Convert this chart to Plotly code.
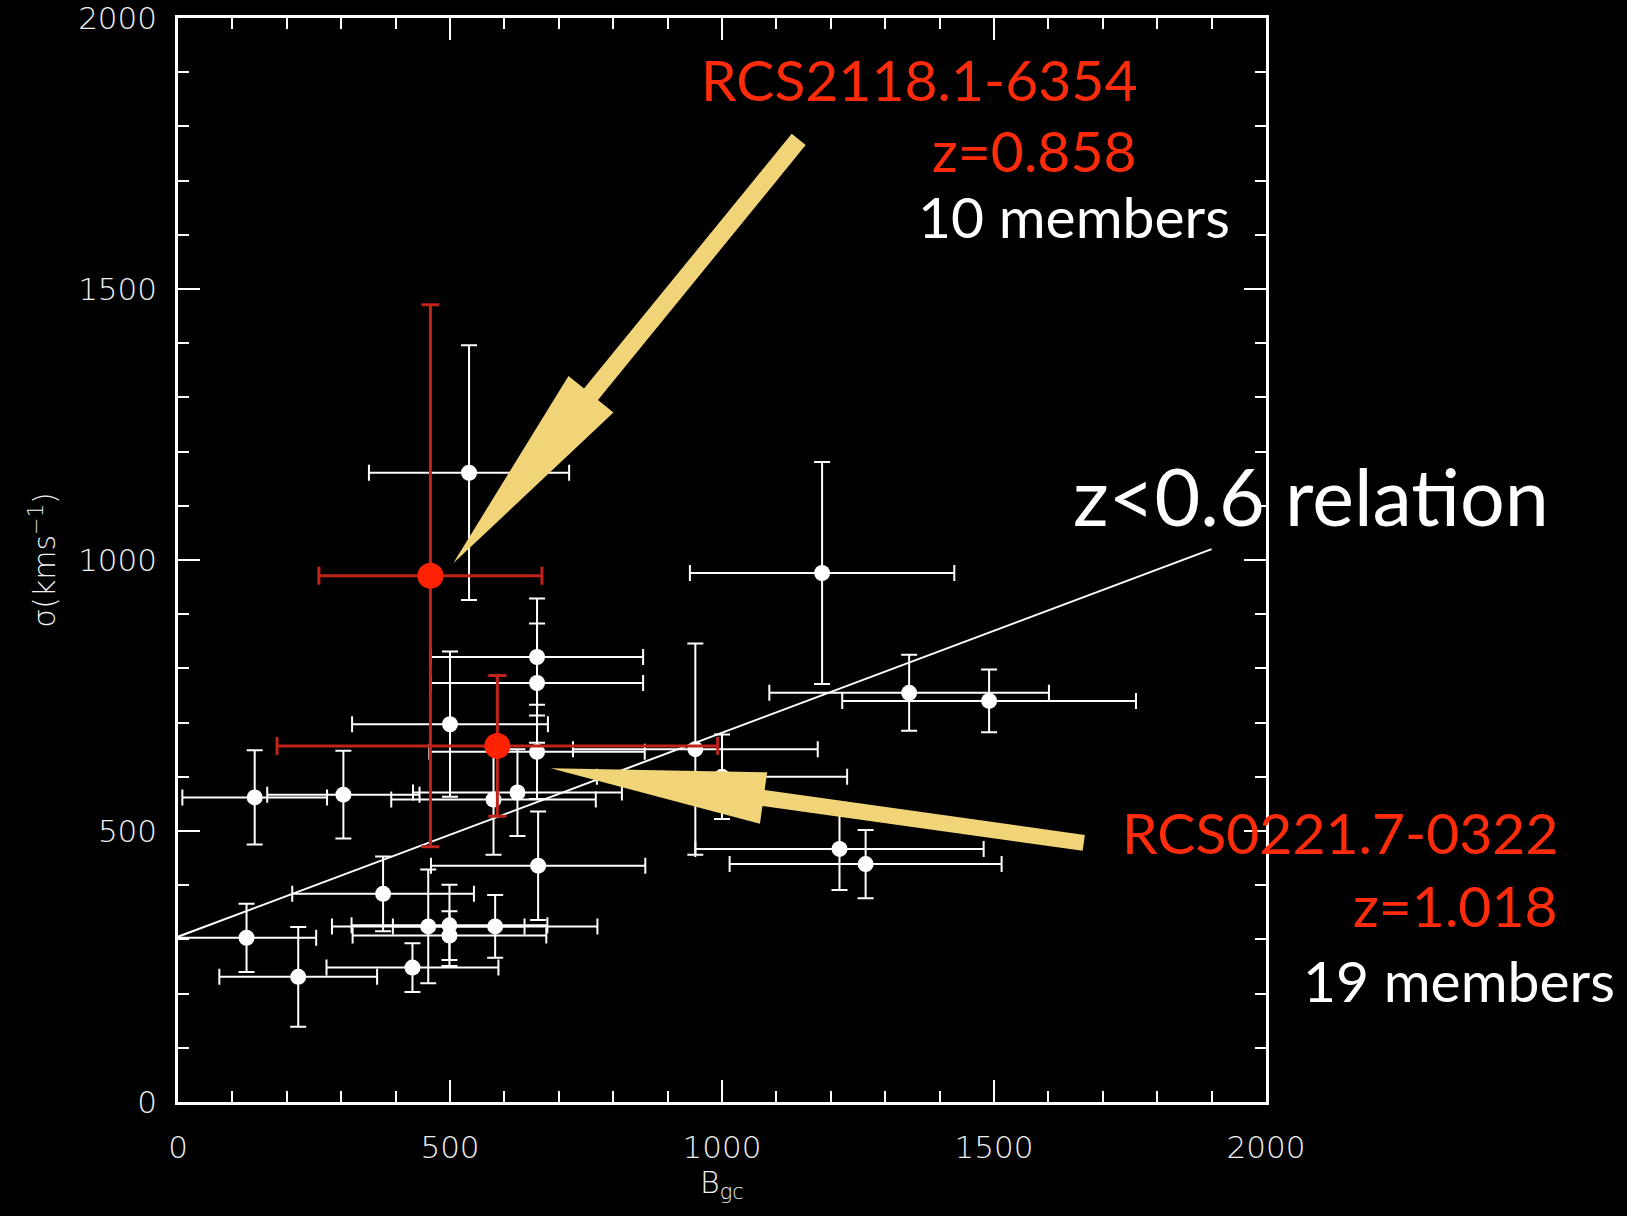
import math
import plotly.graph_objects as go

# ---- cluster sample (z < 0.6 and comparison clusters) ----
bgc = [535, 660, 660, 660, 951, 500, 141, 304, 580, 624, 662, 377, 126,
       221, 431, 460, 499, 499, 583, 1184, 1344, 1491, 1216, 1264, 1000]
sigma = [1161, 821, 773, 646, 651, 697, 562, 567, 558, 571, 436, 384, 303,
         231, 248, 324, 326, 307, 324, 976, 755, 740, 467, 439, 600]
bgc_err = [184, 195, 195, 198, 225, 180, 133, 140, 188, 192, 197, 167, 128,
           145, 158, 177, 180, 178, 188, 243, 257, 270, 265, 250, 230]
sigma_err = [235, 108, 110, 87, 195, 134, 87, 81, 102, 80, 100, 69, 63,
             92, 45, 105, 75, 45, 58, 205, 70, 58, 76, 63, 78]

# ---- high-redshift RCS clusters ----
hiz_names = ["RCS2118.1-6354", "RCS0221.7-0322"]
hiz_z = ["0.858", "1.018"]
hiz_members = [10, 19]
hiz_bgc = [464, 587]
hiz_sigma = [971, 657]
hiz_bgc_err = [205, 405]
hiz_sigma_err = [500, 130]

# ---- low-redshift relation ----
fit_bgc = [0, 1900]
fit_sigma = [305, 1020]
fit_label = "z<0.6 relation"

tick_vals = [0, 500, 1000, 1500, 2000]

# ---- canvas geometry ----
W, H = 1627, 1216
ML, MR, MT, MB = 178, 361, 18, 114
PW, PH = W - ML - MR, H - MT - MB
AX_MAX = 2000

RED_TXT = "#FF2B0A"
RED_PT = "#FF2200"
RED_BAR = "#C0231A"
ARROW = "#F1D477"
AXIS_TXT = "#f0f0f0"


def d2px(x, y):
    return ML + x / AX_MAX * PW, MT + (1 - y / AX_MAX) * PH


def px2d(px, py):
    return (px - ML) / PW * AX_MAX, (1 - (py - MT) / PH) * AX_MAX


def px2paper(px, py):
    return (px - ML) / PW, 1 - (py - MT) / PH


def arrow_path(tip, tail, shaft=17, head_w=56, head_len=215):
    tx, ty = d2px(*tip)
    sx, sy = d2px(*tail)
    dx, dy = tx - sx, ty - sy
    length = math.hypot(dx, dy)
    ux, uy = dx / length, dy / length
    nx, ny = -uy, ux
    bx, by = tx - ux * head_len, ty - uy * head_len
    pts = [
        (sx + nx * shaft / 2, sy + ny * shaft / 2),
        (bx + nx * shaft / 2, by + ny * shaft / 2),
        (bx + nx * head_w / 2, by + ny * head_w / 2),
        (tx, ty),
        (bx - nx * head_w / 2, by - ny * head_w / 2),
        (bx - nx * shaft / 2, by - ny * shaft / 2),
        (sx - nx * shaft / 2, sy - ny * shaft / 2),
    ]
    d = [px2d(*p) for p in pts]
    return "M " + " L ".join(f"{x:.2f},{y:.2f}" for x, y in d) + " Z"


fig = go.Figure()

fig.add_trace(go.Scatter(
    x=bgc, y=sigma, mode="markers",
    marker=dict(color="white", size=16, line=dict(width=0)),
    error_x=dict(type="data", array=bgc_err, color="white", thickness=2, width=8),
    error_y=dict(type="data", array=sigma_err, color="white", thickness=2, width=8),
    showlegend=False, hoverinfo="skip",
))

fig.add_trace(go.Scatter(
    x=fit_bgc, y=fit_sigma, mode="lines",
    line=dict(color="white", width=2),
    showlegend=False, hoverinfo="skip",
))

fig.add_trace(go.Scatter(
    x=hiz_bgc, y=hiz_sigma, mode="markers",
    marker=dict(color=RED_PT, size=26, line=dict(width=0)),
    error_x=dict(type="data", array=hiz_bgc_err, color=RED_BAR, thickness=3, width=9),
    error_y=dict(type="data", array=hiz_sigma_err, color=RED_BAR, thickness=3, width=9),
    showlegend=False, hoverinfo="skip",
))

# pointer arrows to the two RCS clusters
arrow_tips = [(506, 994), (685, 616)]
arrow_tails = [(1141, 1776), (1665, 478)]
arrow_heads = [(58, 218), (52, 215)]
arrow_shafts = [18, 16]
shapes = []
for tip, tail, (hw, hl), sw in zip(arrow_tips, arrow_tails, arrow_heads, arrow_shafts):
    shapes.append(dict(
        type="path", xref="x", yref="y", layer="above",
        path=arrow_path(tip, tail, shaft=sw, head_w=hw, head_len=hl),
        fillcolor=ARROW, line=dict(width=0),
    ))

TXT_FONT = "Lato"
annotations = []


def add_text(text, px, baseline, size, color, anchor="right"):
    cx, cy = px2paper(px, baseline - 0.36 * size)
    annotations.append(dict(
        text=text, x=cx, y=cy, xref="paper", yref="paper",
        xanchor=anchor, yanchor="middle", showarrow=False,
        font=dict(family=TXT_FONT, size=size, color=color),
    ))


label_right = [1139, 1560]
member_right = [1232, 1617]
name_base = [100, 853]
z_base = [171, 926]
mem_base = [237, 1001]
for i in range(2):
    add_text(hiz_names[i], label_right[i], name_base[i], 57, RED_TXT)
    add_text(f"z={hiz_z[i]}", label_right[i], z_base[i], 57, RED_TXT)
    add_text(f"{hiz_members[i]} members", member_right[i], mem_base[i], 57, "white")

add_text(fit_label, 1071, 524, 79, "white", anchor="left")

tick_font = dict(family="DejaVu Sans", size=31, color=AXIS_TXT, weight=200)
axis_common = dict(
    range=[0, AX_MAX], autorange=False, fixedrange=True, automargin=False,
    tickmode="array", tickvals=tick_vals, ticktext=[str(v) for v in tick_vals],
    ticks="inside", ticklen=22, tickwidth=2, tickcolor="white",
    showline=True, linecolor="white", linewidth=2.5, mirror="allticks",
    showgrid=False, zeroline=False, ticklabeloverflow="allow",
    minor=dict(dtick=100, tick0=0, ticks="inside", ticklen=11, tickwidth=2,
               tickcolor="white", showgrid=False),
    tickfont=tick_font,
)

fig.update_layout(
    width=W, height=H,
    margin=dict(l=ML, r=MR, t=MT, b=MB, pad=0, autoexpand=False),
    paper_bgcolor="black", plot_bgcolor="black",
    xaxis=dict(**axis_common, ticklabelstandoff=16,
               title=dict(text="B<sub>gc</sub>", standoff=2,
                          font=dict(family="DejaVu Sans", size=30, color=AXIS_TXT, weight=200))),
    yaxis=dict(**axis_common, ticklabelstandoff=12,
               title=dict(text="σ(kms<sup>−1</sup>)", standoff=14,
                          font=dict(family="DejaVu Sans", size=30, color=AXIS_TXT, weight=200))),
    shapes=shapes,
    annotations=annotations,
)

fig.write_html("out.html")
